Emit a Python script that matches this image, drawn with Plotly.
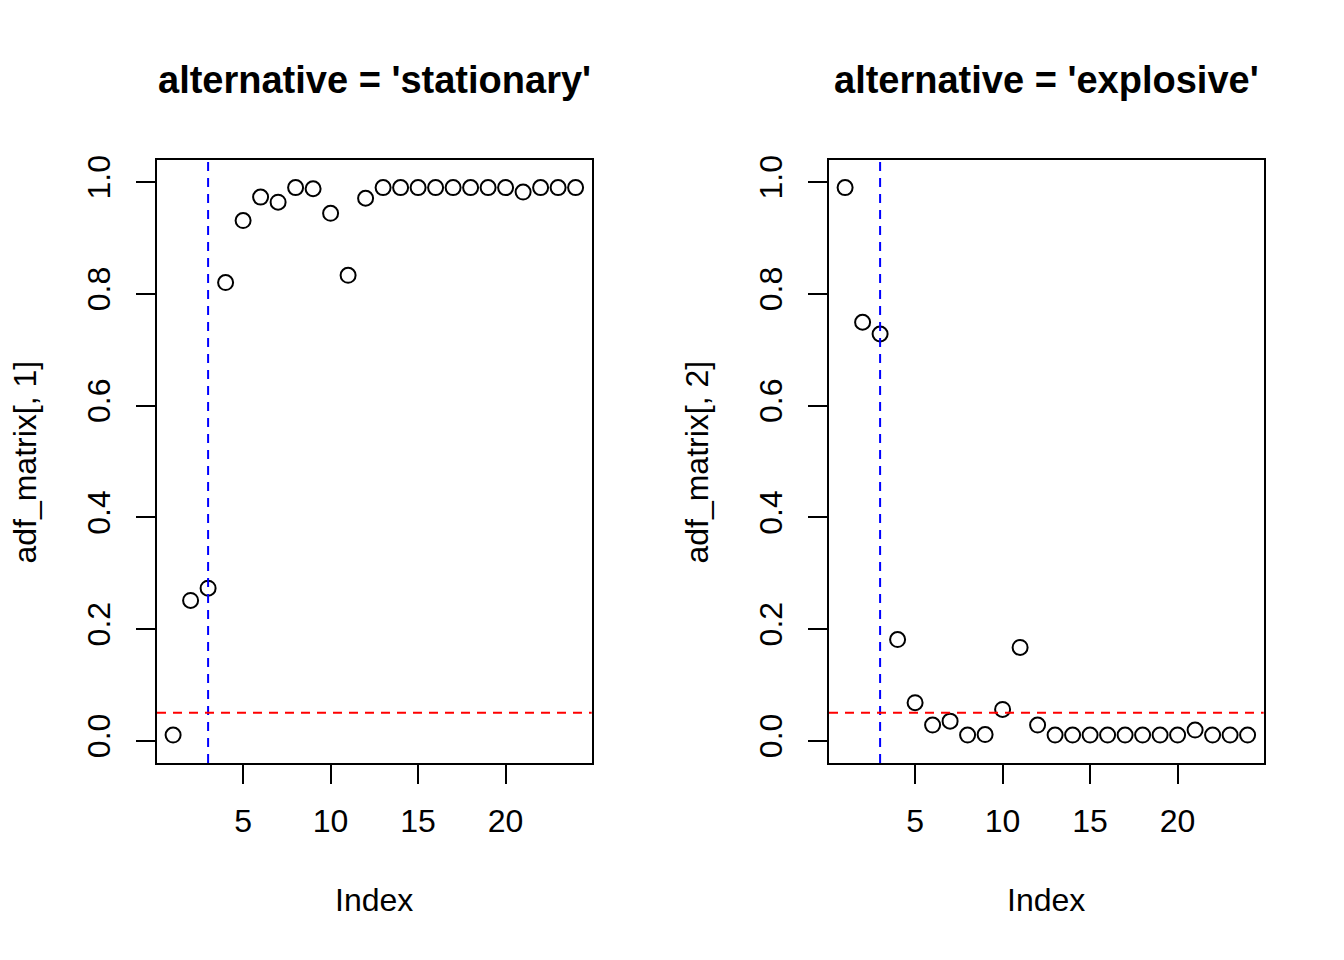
import plotly.graph_objects as go

# ---- data ----
index = list(range(1, 25))
p_stationary = [0.010, 0.251, 0.273, 0.820, 0.931, 0.973, 0.964, 0.990, 0.988, 0.944,
                0.833, 0.971, 0.990, 0.990, 0.990, 0.990, 0.990, 0.990, 0.990, 0.990,
                0.982, 0.990, 0.990, 0.990]
p_explosive = [0.990, 0.749, 0.728, 0.181, 0.068, 0.028, 0.035, 0.010, 0.011, 0.056,
               0.167, 0.028, 0.010, 0.010, 0.010, 0.010, 0.010, 0.010, 0.010, 0.010,
               0.019, 0.010, 0.010, 0.010]
titles = ["alternative = 'stationary'", "alternative = 'explosive'"]
ylabels = ["adf_matrix[, 1]", "adf_matrix[, 2]"]
xlabel = "Index"
vline_x = 3
hline_y = 0.05
x_ticks = [5, 10, 15, 20]
y_ticks = [0.0, 0.2, 0.4, 0.6, 0.8, 1.0]

W, H = 1344, 960
FONT = "Liberation Sans, Arial, Helvetica, sans-serif"


def px(v):
    return v / W


def py(v):
    return 1 - v / H


fig = go.Figure()

panels = [
    dict(xd=(px(157), px(591.7)), series=p_stationary, ylab_x=25),
    dict(xd=(px(829), px(1263.7)), series=p_explosive, ylab_x=697),
]
ydom = (py(762), py(155.5))

for i, p in enumerate(panels):
    n = "" if i == 0 else str(i + 1)
    fig.add_trace(go.Scatter(
        x=index, y=p["series"], mode="markers",
        xaxis="x" + n, yaxis="y" + n,
        marker=dict(symbol="circle-open", size=15, color="black",
                    line=dict(width=2, color="black")),
        showlegend=False, cliponaxis=False,
    ))
    axcommon = dict(showline=True, mirror=True, linecolor="black", linewidth=2,
                    ticks="outside", ticklen=19, tickwidth=2, tickcolor="black",
                    showgrid=False, zeroline=False,
                    tickfont=dict(family=FONT, size=32, color="black"))
    fig.update_layout(**{
        "xaxis" + n: dict(domain=list(p["xd"]), range=[0.08, 24.92],
                          tickvals=x_ticks, anchor="y" + n,
                          ticklabelstandoff=10, **axcommon),
        "yaxis" + n: dict(domain=list(ydom), range=[-0.04, 1.04],
                          tickvals=y_ticks, tickformat=".1f", tickangle=-90,
                          anchor="x" + n, ticklabelstandoff=13, **axcommon),
    })
    xr = "x" + n
    yr = "y" + n
    fig.add_shape(type="line", xref=xr, yref=yr + " domain",
                  x0=vline_x, x1=vline_x, y0=0, y1=1,
                  line=dict(color="#0000FF", width=2, dash="9px,7px"))
    fig.add_shape(type="line", xref=xr + " domain", yref=yr,
                  x0=0, x1=1, y0=hline_y, y1=hline_y,
                  line=dict(color="#FF0000", width=2, dash="9px,7px"))
    cx = (p["xd"][0] + p["xd"][1]) / 2
    fig.add_annotation(text="<b>" + titles[i] + "</b>", xref="paper", yref="paper",
                       x=cx, y=py(75), xanchor="center", yanchor="middle",
                       showarrow=False, font=dict(family=FONT, size=38, color="black"))
    fig.add_annotation(text=xlabel, xref="paper", yref="paper",
                       x=cx, y=py(900), xanchor="center", yanchor="middle",
                       showarrow=False, font=dict(family=FONT, size=32, color="black"))
    fig.add_annotation(text=ylabels[i], xref="paper", yref="paper",
                       x=px(p["ylab_x"]), y=py(460),
                       xanchor="center", yanchor="middle", textangle=-90,
                       borderpad=0,
                       showarrow=False, font=dict(family=FONT, size=32, color="black"))

fig.update_layout(width=W, height=H, margin=dict(l=0, r=0, t=0, b=0),
                  paper_bgcolor="white", plot_bgcolor="white")

fig.write_html("out.html", config={"displayModeBar": False},
               post_script="document.body.style.margin='0';document.body.style.padding='0';")
